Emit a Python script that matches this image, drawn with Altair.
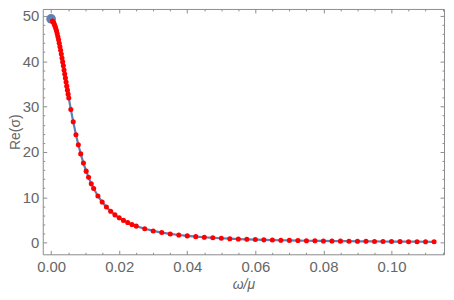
import altair as alt
import pandas as pd

omega = [0.0004, 0.0006, 0.0008, 0.0010, 0.0012, 0.0014, 0.0016, 0.0018, 0.0020,
         0.0022, 0.0024, 0.0026, 0.0028, 0.0030, 0.0032, 0.0034, 0.0036, 0.0038,
         0.0040, 0.0042, 0.0044, 0.0046, 0.0048, 0.0050, 0.0052,
         0.0058, 0.0065, 0.0073, 0.0080, 0.0087, 0.0095, 0.0103, 0.0110, 0.0118,
         0.0125, 0.01375, 0.015, 0.01625, 0.0175, 0.01875, 0.02, 0.02125, 0.0225,
         0.02375, 0.025,
         0.0275, 0.03, 0.0325, 0.035, 0.0375, 0.04, 0.0425, 0.045, 0.0475, 0.05,
         0.0525, 0.055, 0.0575, 0.06, 0.0625, 0.065, 0.0675, 0.07, 0.0725, 0.075,
         0.0775, 0.08, 0.0825, 0.085, 0.0875, 0.09, 0.0925, 0.095, 0.0975, 0.1,
         0.1025, 0.105, 0.1075, 0.11, 0.1125]
re_sigma = [48.84, 48.65, 48.38, 48.04, 47.64, 47.16, 46.63, 46.03, 45.39,
            44.70, 43.96, 43.19, 42.39, 41.56, 40.71, 39.84, 38.96, 38.07,
            37.18, 36.28, 35.38, 34.49, 33.61, 32.73, 31.87,
            29.36, 26.63, 23.79, 21.56, 19.56, 17.53, 15.76, 14.39, 13.00,
            11.93, 10.30, 8.95, 7.84, 6.91, 6.13, 5.47, 4.91, 4.43,
            4.01, 3.65,
            3.06, 2.59, 2.23, 1.93, 1.69, 1.49, 1.33, 1.19, 1.07, 0.97,
            0.88, 0.80, 0.73, 0.68, 0.62, 0.58, 0.54, 0.50, 0.46, 0.43,
            0.41, 0.38, 0.36, 0.34, 0.32, 0.30, 0.29, 0.27, 0.26, 0.245,
            0.23, 0.22, 0.21, 0.20, 0.19]
start_omega = [0.0]
start_re = [49.3]

x_ticks = [0.0, 0.02, 0.04, 0.06, 0.08, 0.10]
y_ticks = [0, 10, 20, 30, 40, 50]
x_minor = [0.005, 0.01, 0.015, 0.025, 0.03, 0.035, 0.045, 0.05, 0.055,
           0.065, 0.07, 0.075, 0.085, 0.09, 0.095, 0.105, 0.11, 0.115]
y_minor = [2, 4, 6, 8, 12, 14, 16, 18, 22, 24, 26, 28, 32, 34, 36, 38,
           42, 44, 46, 48]

dots = pd.DataFrame({"omega": omega, "re": re_sigma})
curve = pd.DataFrame({"omega": start_omega + omega, "re": start_re + re_sigma})
start = pd.DataFrame({"omega": start_omega, "re": start_re})

xs = alt.Scale(domain=[-0.00245, 0.11542], nice=False, zero=False)
ys = alt.Scale(domain=[-2.56, 51.5], nice=False, zero=False)

LAB = "#666666"
TICK = "#8c8c8c"
FONT = "Liberation Sans"


def frame_axis(orient, values, size, **kw):
    return alt.Axis(title="", values=values, orient=orient, labels=False,
                    domain=False, grid=False, tickSize=size, offset=-size,
                    tickColor=TICK, **kw)


xa = alt.Axis(title="ω/μ", values=x_ticks, format=".2f", orient="bottom",
              domain=False, grid=False, tickSize=4, offset=-4, tickColor=TICK,
              labelPadding=5, labelFont=FONT, labelFontSize=15,
              labelColor=LAB, titleFont=FONT, titleFontSize=14,
              titleFontStyle="italic", titleFontWeight="normal",
              titleColor=LAB, titlePadding=3)
ya = alt.Axis(title="Re(σ)", values=y_ticks, orient="left",
              domain=False, grid=False, tickSize=4, offset=-4, tickColor=TICK,
              labelPadding=4, labelFont=FONT, labelFontSize=15,
              labelColor=LAB, titleFont=FONT, titleFontSize=14,
              titleFontWeight="normal", titleColor=LAB, titlePadding=0)

line = alt.Chart(curve).mark_line(color="#5E81B5", strokeWidth=2.2).encode(
    x=alt.X("omega:Q", scale=xs, axis=xa),
    y=alt.Y("re:Q", scale=ys, axis=ya),
)
big = alt.Chart(start).mark_circle(color="#5E81B5", opacity=1, size=95).encode(
    x=alt.X("omega:Q", scale=xs, axis=frame_axis("top", x_ticks, 4)),
    y=alt.Y("re:Q", scale=ys, axis=frame_axis("right", y_ticks, 4)),
)
ghost1 = alt.Chart(start).mark_circle(opacity=0, size=1).encode(
    x=alt.X("omega:Q", scale=xs, axis=frame_axis("bottom", x_minor, 2)),
    y=alt.Y("re:Q", scale=ys, axis=frame_axis("left", y_minor, 2)),
)
ghost2 = alt.Chart(start).mark_circle(opacity=0, size=1).encode(
    x=alt.X("omega:Q", scale=xs, axis=frame_axis("top", x_minor, 2)),
    y=alt.Y("re:Q", scale=ys, axis=frame_axis("right", y_minor, 2)),
)
pts = alt.Chart(dots).mark_circle(color="#FF0000", opacity=1, size=26).encode(
    x=alt.X("omega:Q", scale=xs, axis=None),
    y=alt.Y("re:Q", scale=ys, axis=None),
)

chart = alt.layer(line, big, ghost1, ghost2, pts).resolve_axis(
    x="independent", y="independent").properties(
    width=404, height=247,
    autosize=alt.AutoSizeParams(type="none"),
    padding={"left": 35, "top": 0, "right": 2, "bottom": 37},
).configure_view(stroke="#8c8c8c", strokeWidth=1)

chart.save("out.html", embed_options={"renderer": "svg", "actions": False})
